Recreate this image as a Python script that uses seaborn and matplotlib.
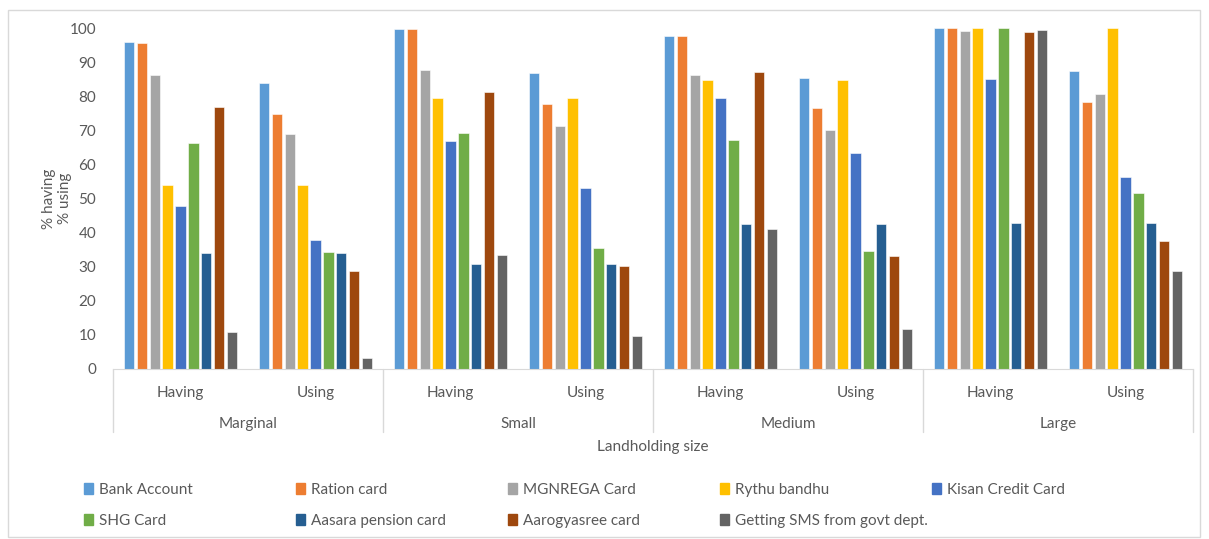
import pandas as pd
import matplotlib.pyplot as plt
import seaborn as sns
from matplotlib.patches import Rectangle

# data
sizes = ["Marginal", "Small", "Medium", "Large"]
kinds = ["Having", "Using"]
cards = ["Bank Account", "Ration card", "MGNREGA Card", "Rythu bandhu",
         "Kisan Credit Card", "SHG Card", "Aasara pension card",
         "Aarogyasree card", "Getting SMS from govt dept."]

marginal_having = [96.0, 95.7, 86.2, 54.0, 47.8, 66.4, 34.0, 76.7, 10.9]
marginal_using = [84.0, 74.9, 69.0, 54.0, 37.8, 34.3, 34.0, 28.6, 3.2]
small_having = [99.6, 99.6, 87.6, 79.5, 67.0, 69.2, 30.8, 81.2, 33.5]
small_using = [86.7, 77.8, 71.3, 79.5, 53.0, 35.5, 30.8, 30.2, 9.6]
medium_having = [97.6, 97.6, 86.2, 84.8, 79.5, 67.2, 42.4, 87.1, 41.0]
medium_using = [85.2, 76.5, 70.2, 84.8, 63.2, 34.7, 42.4, 33.0, 11.8]
large_having = [100.0, 100.0, 99.1, 100.0, 85.0, 100.0, 42.9, 98.9, 99.5]
large_using = [87.4, 78.3, 80.6, 100.0, 56.4, 51.6, 42.9, 37.6, 28.6]

colors = ["#5B9BD5", "#ED7D31", "#A5A5A5", "#FFC000", "#4472C4",
          "#70AD47", "#255E91", "#9E480E", "#636363"]

series = [marginal_having, marginal_using, small_having, small_using,
          medium_having, medium_using, large_having, large_using]
slots = [s + " " + k for s in sizes for k in kinds]

rows = []
for slot, vals in zip(slots, series):
    for card, v in zip(cards, vals):
        rows.append({"slot": slot, "card": card, "value": v})
df = pd.DataFrame(rows)

sns.set_style("white")
plt.rcParams["font.family"] = ["Lato", "DejaVu Sans"]
txt = "#595959"

fig = plt.figure(figsize=(12.09, 5.39), dpi=100)
ax = fig.add_axes([113 / 1209, 170 / 539, 1080 / 1209, 341 / 539])

sns.barplot(data=df, x="slot", y="value", hue="card", order=slots,
            hue_order=cards, palette=colors, saturation=1, width=0.86,
            gap=0.2, edgecolor="white", linewidth=0.4, ax=ax, legend=True)

ax.set_ylim(0, 100)
ax.set_xlim(-0.5, len(slots) - 0.5)
ax.set_yticks(range(0, 101, 10))
ax.tick_params(axis="y", labelsize=11, colors=txt, length=0, pad=12)
ax.tick_params(axis="x", length=0)
ax.set_xticks(range(len(slots)))
ax.set_xticklabels(kinds * len(sizes), fontsize=11, color=txt)
ax.tick_params(axis="x", pad=12)
for s in ["left", "right", "top"]:
    ax.spines[s].set_visible(False)
ax.spines["bottom"].set_color("#D9D9D9")
ax.set_xlabel("")
ax.set_ylabel("% having\n% using", fontsize=11, color=txt, labelpad=-2)

# multi-level category axis: separators and group names
trans = ax.get_xaxis_transform()
for i in range(len(sizes) + 1):
    xb = -0.5 + 2 * i
    ax.plot([xb, xb], [0, -0.185], transform=trans, color="#D9D9D9",
            lw=1, clip_on=False)
for i, s in enumerate(sizes):
    ax.text(0.5 + 2 * i, -0.16, s, transform=trans, ha="center",
            va="center", fontsize=11, color=txt)
ax.text(3.5, -0.23, "Landholding size", transform=trans, ha="center",
        va="center", fontsize=11, color=txt)

# legend: five equally spaced columns, two rows
ax.get_legend().remove()
col_x = [84, 296, 508, 720, 932]
for c, x0 in enumerate(col_x):
    idx = [i for i in (c, c + 5) if i < len(cards)]
    handles = [Rectangle((0, 0), 1, 1, color=colors[i]) for i in idx]
    fig.legend(handles, [cards[i] for i in idx], loc="upper left",
               bbox_to_anchor=(x0 / 1209, 1 - 483 / 539),
               frameon=False, fontsize=11, labelcolor=txt,
               handlelength=0.6, handleheight=0.7, handletextpad=0.4,
               labelspacing=1.1, borderaxespad=0, borderpad=0)

fig.patches.append(Rectangle((8 / 1209, 2 / 539), 1192 / 1209, 527 / 539,
                             transform=fig.transFigure, fill=False,
                             edgecolor="#D9D9D9", lw=1))

fig.savefig("out.png", dpi=100)
